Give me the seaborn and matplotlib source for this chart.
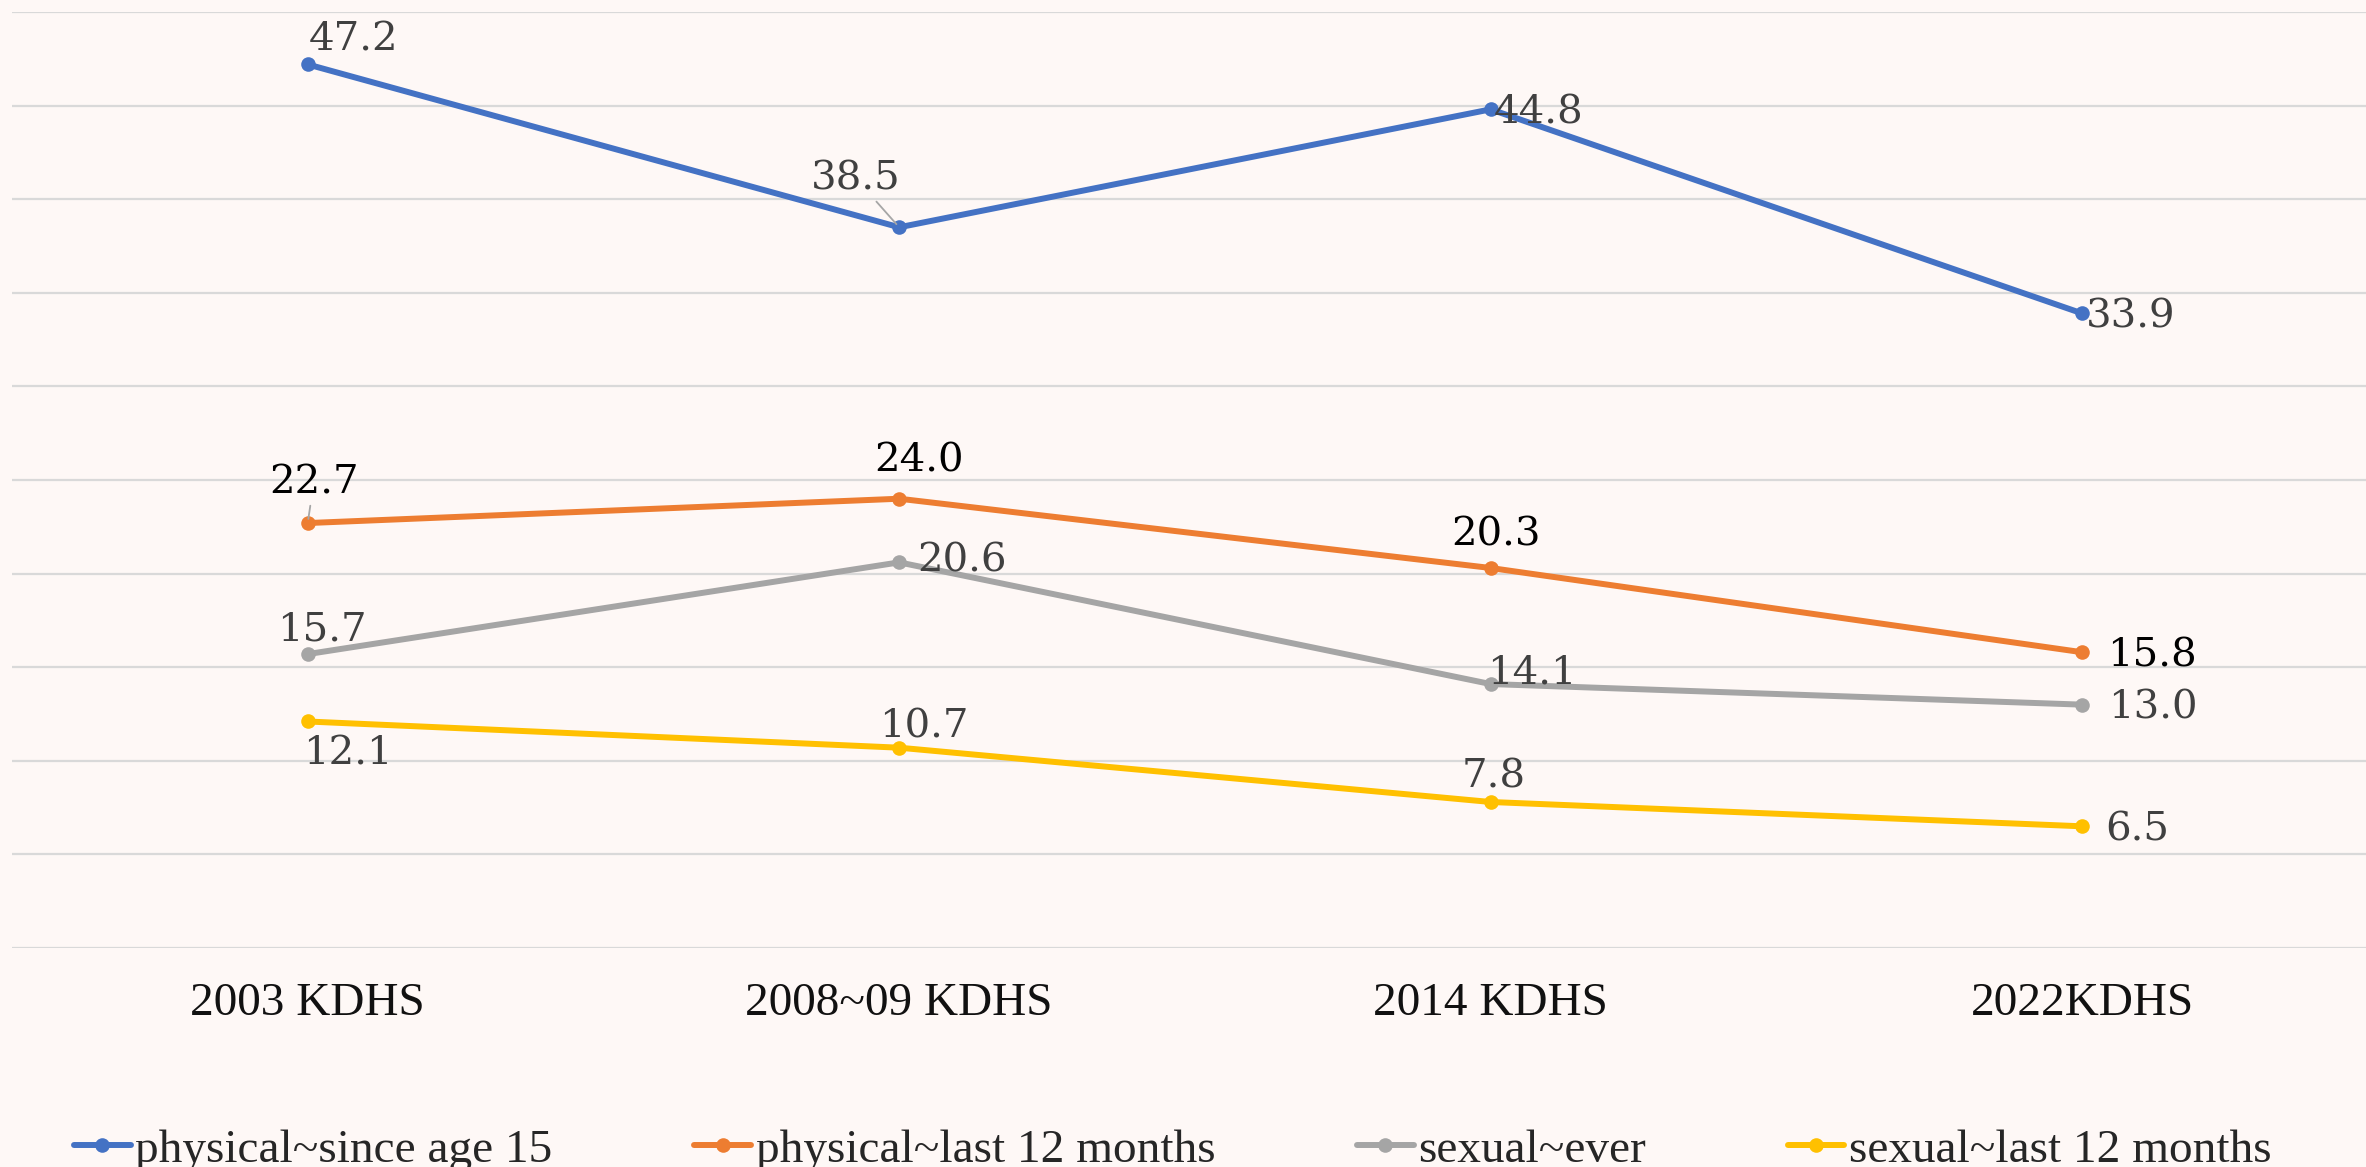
import numpy as np
import pandas as pd
import matplotlib
matplotlib.use("Agg")
import matplotlib.pyplot as plt
import seaborn as sns

# --- data ---
surveys = ["2003 KDHS", "2008~09 KDHS", "2014 KDHS", "2022KDHS"]
series_names = [
    "physical~since age 15",
    "physical~last 12 months",
    "sexual~ever",
    "sexual~last 12 months",
]
physical_since_15 = [47.2, 38.5, 44.8, 33.9]
physical_last_12 = [22.7, 24.0, 20.3, 15.8]
sexual_ever = [15.7, 20.6, 14.1, 13.0]
sexual_last_12 = [12.1, 10.7, 7.8, 6.5]

colors = ["#4472C4", "#ED7D31", "#A5A5A5", "#FFC000"]
label_colors = ["#404040", "#000000", "#404040", "#404040"]

# label offsets from each marker (pixels, x right / y up, to digit centre)
label_offsets = [
    [(46, 28), (-43, 52), (48, 0), (49, 0)],
    [(6, 44), (20, 41), (5, 36), (70, 0)],
    [(14, 28), (63, 5), (41, 15), (71, 0)],
    [(40, -29), (25, 24), (3, 28), (55, 0)],
]
leader_lines = {(0, 1), (1, 0)}

values = [physical_since_15, physical_last_12, sexual_ever, sexual_last_12]
df = pd.DataFrame({
    "survey": surveys * len(series_names),
    "pos": list(range(len(surveys))) * len(series_names),
    "series": np.repeat(series_names, len(surveys)),
    "value": np.concatenate(values),
})

bg = "#FEF8F6"
W, H, DPI = 2366, 1167, 100
PT = 72.0 / DPI  # pixels -> points
LW, MS = 4.3, 10.5

sns.set_style("white")
fig = plt.figure(figsize=(W / DPI, H / DPI), dpi=DPI, facecolor=bg)
ax = fig.add_axes([12 / W, 1 - 948 / H, 1 - 12 / W, (948 - 12) / H])
ax.set_facecolor(bg)

sns.lineplot(
    data=df, x="pos", y="value", hue="series", hue_order=series_names,
    palette=colors, marker="o", markersize=MS, markeredgewidth=0,
    linewidth=LW, sort=False, legend=False, ax=ax, zorder=3,
)

ax.set_xlim(-0.5, 3.48)
ax.set_ylim(0, 50)
ax.set_yticks(np.arange(0, 51, 5))
ax.set_yticklabels([])
ax.tick_params(axis="y", length=0)
ax.yaxis.grid(True, color="#D9D9D9", linewidth=1.6)
ax.set_axisbelow(True)
for s in ax.spines.values():
    s.set_visible(False)

ax.set_xticks(range(len(surveys)))
ax.set_xticklabels(surveys, fontfamily="Liberation Serif", fontsize=34, color="#111111")
ax.tick_params(axis="x", length=0, pad=25)
ax.set_xlabel("")
ax.set_ylabel("")

# data labels
digit_mid = 14  # px from baseline to digit centre
for si, vals in enumerate(values):
    for i, v in enumerate(vals):
        dx, dy = label_offsets[si][i]
        arrow = None
        if (si, i) in leader_lines:
            arrow = dict(arrowstyle="-", color="#A6A6A6", lw=1.3,
                         shrinkA=1, shrinkB=3)
        ax.annotate(
            f"{v:.1f}", xy=(i, v),
            xytext=(dx * PT, (dy - digit_mid) * PT), textcoords="offset points",
            ha="center", va="baseline", fontsize=29, fontfamily="DejaVu Serif",
            color=label_colors[si], arrowprops=arrow, zorder=4,
        )

# legend along the bottom
handles = [
    plt.Line2D([], [], color=c, marker="o", markersize=MS, markeredgewidth=0, linewidth=LW)
    for c in colors
]
fig.legend(
    handles, series_names, loc="lower left", bbox_to_anchor=(74 / W, -0.004),
    ncol=4, frameon=False, prop={"family": "Liberation Serif", "size": 34},
    handlelength=1.2, handletextpad=0.1, columnspacing=3.0,
    borderpad=0, borderaxespad=0,
)

fig.savefig("out.png", dpi=DPI, facecolor=bg)
